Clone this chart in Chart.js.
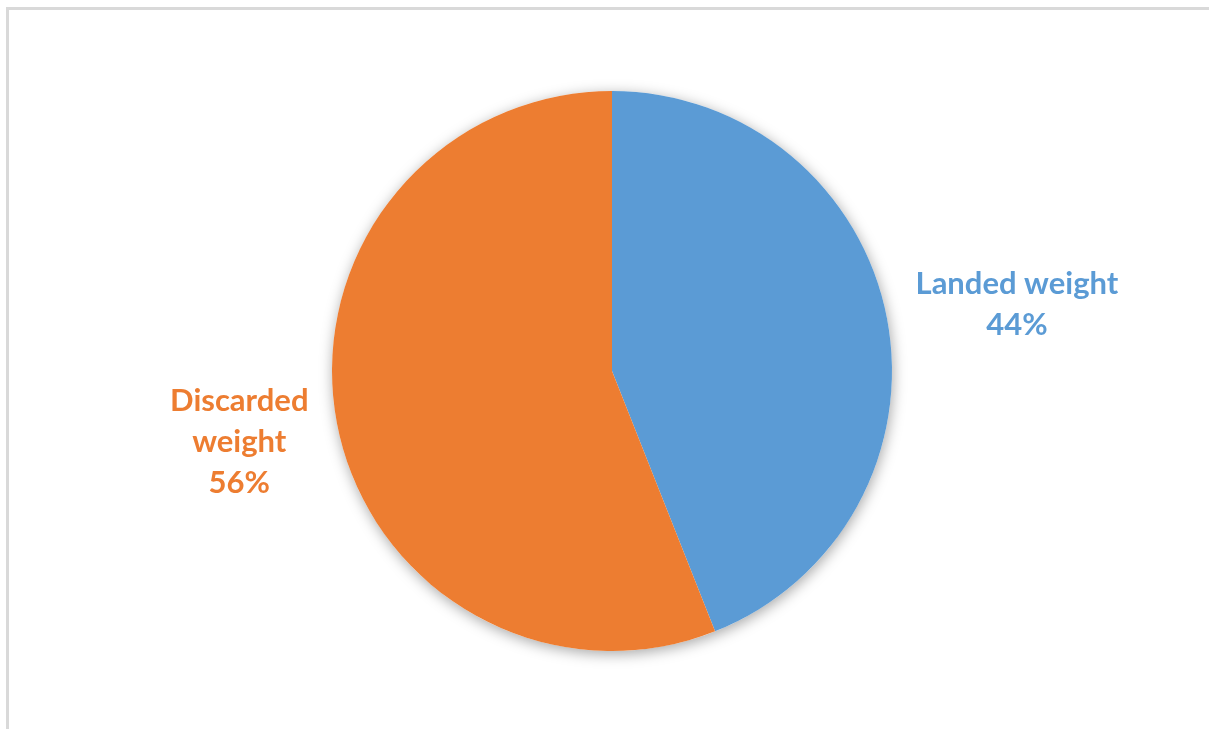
<!DOCTYPE html>
<html>
<head>
<meta charset="utf-8">
<script src="https://cdn.jsdelivr.net/npm/chart.js@4.4.0/dist/chart.umd.min.js"></script>
<style>
  html, body { margin: 0; padding: 0; background: #fff; }
  #wrap { position: relative; width: 1209px; height: 729px; overflow: hidden; }
  #frame { position: absolute; left: 6px; top: 7px; width: 1300px; height: 800px;
           border-left: 3px solid #d9d9d9; border-top: 3px solid #d9d9d9; }
  canvas { position: absolute; left: 0; top: 0; }
</style>
</head>
<body>
<div id="wrap">
  <div id="frame"></div>
  <canvas id="myChart" width="1209" height="729"></canvas>
</div>
<script>
var categories = ["Landed weight", "Discarded weight"];
var labelLines = [["Landed weight"], ["Discarded", "weight"]];
var shares = [44, 56];
var sliceColors = ["#5b9bd5", "#ed7d31"];

// soft drop shadow under the pie
var pieShadow = {
    id: 'pieShadow',
    beforeDatasetsDraw: function (chart) {
        var arc = chart.getDatasetMeta(0).data[0];
        if (!arc) return;
        var ctx = chart.ctx;
        ctx.save();
        ctx.shadowColor = 'rgba(0,0,0,0.35)';
        ctx.shadowBlur = 14;
        ctx.shadowOffsetX = 1;
        ctx.shadowOffsetY = 3;
        ctx.fillStyle = '#fff';
        ctx.beginPath();
        ctx.arc(arc.x, arc.y, arc.outerRadius, 0, Math.PI * 2);
        ctx.fill();
        ctx.restore();
    }
};

// category name + percentage outside each slice
var outsideLabels = {
    id: 'outsideLabels',
    afterDatasetsDraw: function (chart) {
        var ctx = chart.ctx;
        var meta = chart.getDatasetMeta(0);
        var total = shares.reduce(function (a, b) { return a + b; }, 0);
        ctx.save();
        ctx.font = 'bold 31px Lato, "Open Sans", sans-serif';
        ctx.textAlign = 'center';
        ctx.textBaseline = 'middle';
        meta.data.forEach(function (arc, i) {
            var lines = labelLines[i].concat([Math.round(shares[i] / total * 100) + '%']);
            var mid = (arc.startAngle + arc.endAngle) / 2;
            var dx = Math.cos(mid), dy = Math.sin(mid);
            var halfW = 0;
            lines.forEach(function (t) { halfW = Math.max(halfW, ctx.measureText(t).width / 2); });
            var lineH = 41;
            var halfH = lines.length * lineH / 2;
            var d = arc.outerRadius + 29;
            var cx = arc.x + dx * d + Math.sign(dx) * halfW;
            var cy = arc.y + dy * d + Math.sign(dy) * 0.22 * halfH;
            var y0 = cy - (lines.length - 1) * lineH / 2;
            ctx.fillStyle = sliceColors[i];
            lines.forEach(function (t, k) { ctx.fillText(t, cx, y0 + k * lineH); });
        });
        ctx.restore();
    }
};

var canvas = document.getElementById('myChart').getContext('2d');

new Chart(canvas, {
    type: 'pie',
    data: {
        labels: categories,
        datasets: [{
            data: shares,
            backgroundColor: sliceColors,
            borderWidth: 0
        }]
    },
    options: {
        responsive: false,
        animation: false,
        layout: { padding: { left: 332, right: 317, top: 91, bottom: 78 } },
        plugins: {
            legend: { display: false },
            tooltip: { enabled: false }
        }
    },
    plugins: [pieShadow, outsideLabels]
});
</script>
</body>
</html>
